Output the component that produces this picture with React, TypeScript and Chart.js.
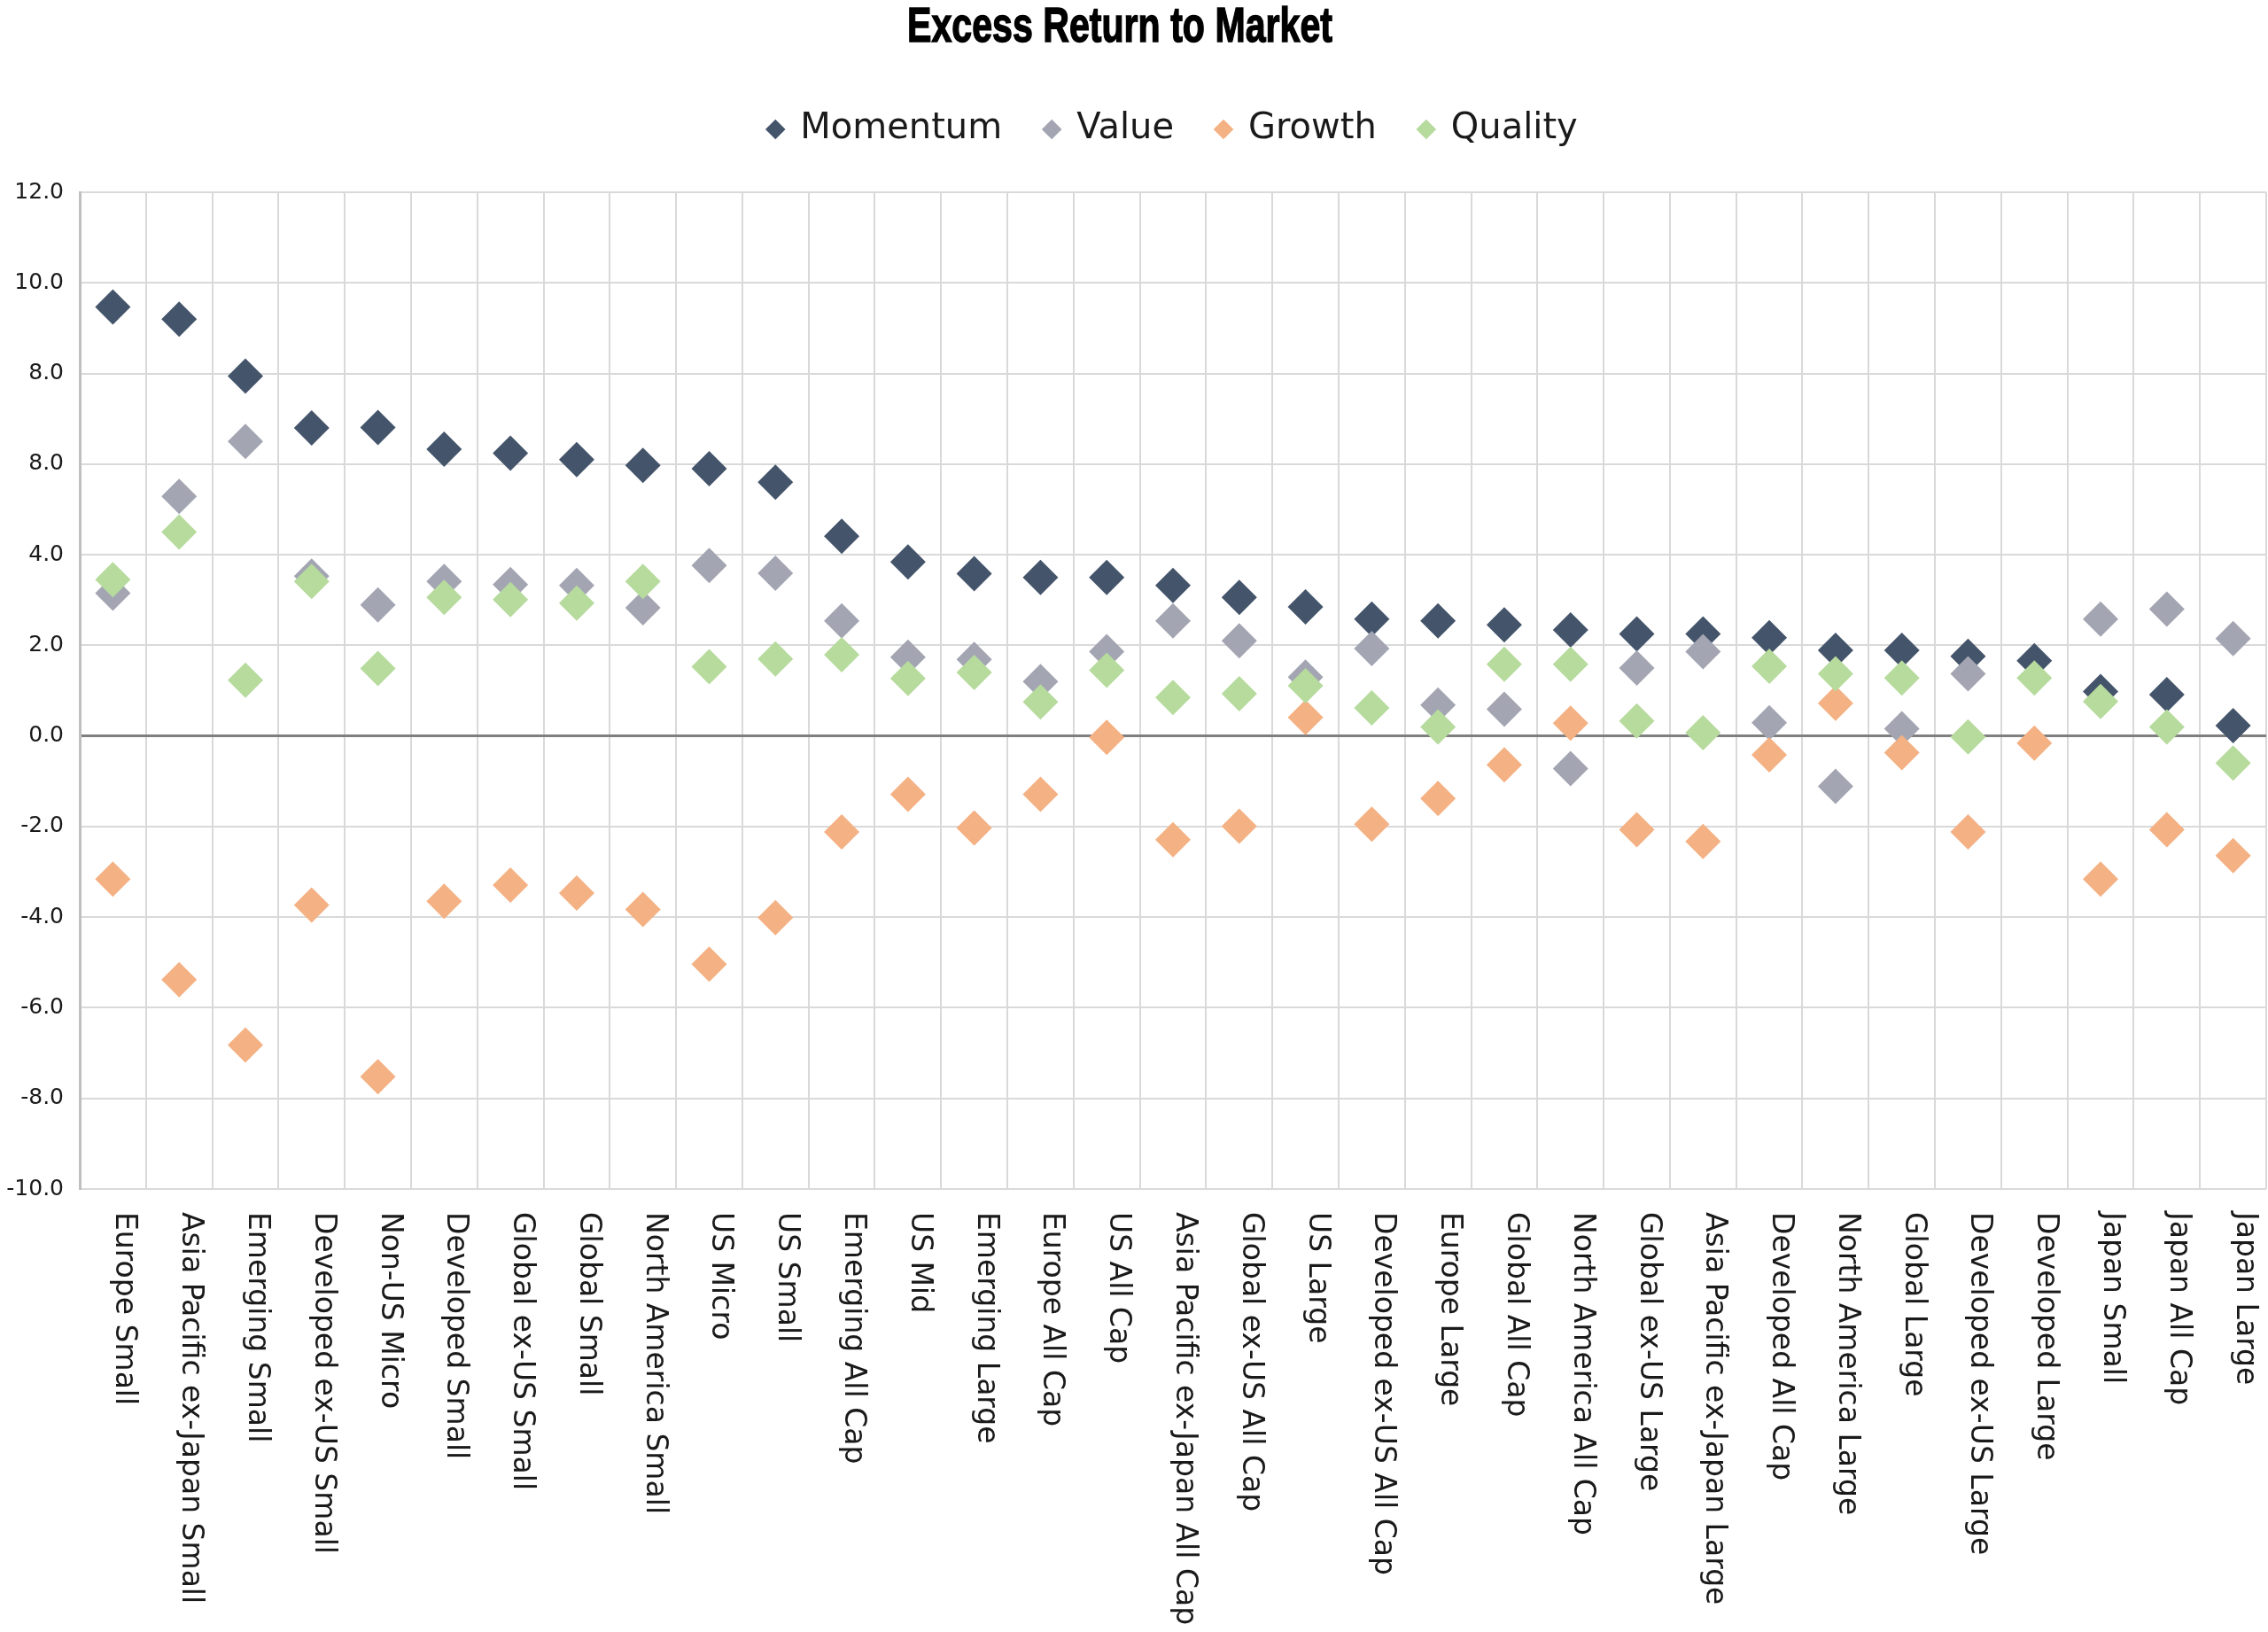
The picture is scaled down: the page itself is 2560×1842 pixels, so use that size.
import React, { useEffect, useRef } from 'react';
import { Chart, registerables } from 'chart.js';

Chart.register(...registerables);

const chartTitle = 'Excess Return to Market';

const categories = [
  'Europe Small', 'Asia Pacific ex-Japan Small', 'Emerging Small', 'Developed ex-US Small', 'Non-US Micro',
  'Developed Small', 'Global ex-US Small', 'Global Small', 'North America Small', 'US Micro', 'US Small',
  'Emerging All Cap', 'US Mid', 'Emerging Large', 'Europe All Cap', 'US All Cap', 'Asia Pacific ex-Japan All Cap',
  'Global ex-US All Cap', 'US Large', 'Developed ex-US All Cap', 'Europe Large', 'Global All Cap',
  'North America All Cap', 'Global ex-US Large', 'Asia Pacific ex-Japan Large', 'Developed All Cap',
  'North America Large', 'Global Large', 'Developed ex-US Large', 'Developed Large', 'Japan Small',
  'Japan All Cap', 'Japan Large',
];

const momentum = [
  9.47, 9.20, 7.94, 6.80, 6.81, 6.33, 6.24, 6.10, 5.97, 5.90, 5.60,
  4.41, 3.84, 3.58, 3.50, 3.50, 3.32, 3.06, 2.85, 2.58, 2.54, 2.45,
  2.34, 2.25, 2.25, 2.17, 1.89, 1.89, 1.76, 1.66, 0.98, 0.91, 0.23,
];

const value = [
  3.15, 5.29, 6.50, 3.53, 2.89, 3.41, 3.34, 3.32, 2.83, 3.76, 3.59,
  2.54, 1.74, 1.69, 1.20, 1.86, 2.54, 2.10, 1.30, 1.93, 0.68, 0.59,
  -0.72, 1.50, 1.86, 0.29, -1.11, 0.16, 1.37, null, 2.58, 2.80, 2.15,
];

const growth = [
  -3.16, -5.38, -6.82, -3.73, -7.52, -3.65, -3.29, -3.47, -3.83, -5.04, -4.01,
  -2.12, -1.29, -2.03, -1.29, -0.03, -2.29, -1.99, 0.41, -1.95, -1.38, -0.64,
  0.28, -2.07, -2.33, -0.42, 0.72, -0.37, -2.12, -0.16, -3.16, -2.07, -2.64,
];

const quality = [
  3.45, 4.50, 1.23, 3.41, 1.49, 3.06, 3.01, 2.93, 3.41, 1.53, 1.70,
  1.79, 1.27, 1.40, 0.75, 1.45, 0.85, 0.93, 1.11, 0.62, 0.20, 1.58,
  1.58, 0.33, 0.07, 1.54, 1.37, 1.28, -0.02, 1.28, 0.76, 0.20, -0.60,
];

const seriesNames = ['Momentum', 'Value', 'Growth', 'Quality'];
const seriesColors = ['#44546A', '#A3A6B2', '#F4B183', '#B6DB9D'];

// Tick labels as printed on the original axis (bottom to top)
const yTickLabels = ['-10.0', '-8.0', '-6.0', '-4.0', '-2.0', '0.0', '2.0', '4.0', '8.0', '8.0', '10.0', '12.0'];

const FONT = '"DejaVu Sans", "Open Sans", sans-serif';

export default function App() {
  const ref = useRef<HTMLCanvasElement | null>(null);

  useEffect(() => {
    const canvas = ref.current;
    if (!canvas) return;

    const titlePlugin = {
      id: 'condensedTitle',
      afterDraw(chart: any) {
        const ctx = chart.ctx;
        ctx.save();
        ctx.font = 'bold 56px "Liberation Sans Narrow", "Liberation Sans", sans-serif';
        const w = ctx.measureText(chartTitle).width;
        ctx.translate(1264, 47);
        ctx.scale(480 / w, 1);
        ctx.textAlign = 'center';
        ctx.textBaseline = 'alphabetic';
        ctx.fillStyle = '#000';
        ctx.strokeStyle = '#000';
        ctx.lineWidth = 1.5;
        ctx.fillText(chartTitle, 0, 0);
        ctx.strokeText(chartTitle, 0, 0);
        ctx.restore();
      },
    };

    const xLabelPlugin = {
      id: 'rotatedXLabels',
      afterDraw(chart: any) {
        const ctx = chart.ctx;
        const xs = chart.scales.x;
        const area = chart.chartArea;
        ctx.save();
        ctx.font = '33px ' + FONT;
        ctx.fillStyle = '#1a1a1a';
        ctx.textAlign = 'left';
        ctx.textBaseline = 'alphabetic';
        categories.forEach((label, i) => {
          const px = xs.getPixelForValue(i);
          ctx.save();
          ctx.translate(px + 4, area.bottom + 26);
          ctx.rotate(Math.PI / 2);
          ctx.fillText(label, 0, 0);
          ctx.restore();
        });
        ctx.restore();
      },
    };

    const allData = [momentum, value, growth, quality];

    const chart = new Chart(canvas, {
      type: 'line',
      data: {
        labels: categories,
        datasets: seriesNames.map((name, i) => ({
          label: name,
          data: allData[i],
          xAxisID: 'x',
          yAxisID: 'y',
          showLine: false,
          pointStyle: 'rectRot',
          pointRadius: 20,
          pointHoverRadius: 20,
          pointBorderWidth: 0,
          backgroundColor: seriesColors[i],
          borderColor: seriesColors[i],
          pointBackgroundColor: seriesColors[i],
          borderWidth: 0,
          order: seriesNames.length - 1 - i,
        })),
      },
      options: {
        animation: false,
        responsive: true,
        maintainAspectRatio: false,
        events: [],
        layout: { autoPadding: false, padding: { top: 78, right: 2, bottom: 0, left: 0 } },
        font: { family: FONT },
        plugins: {
          title: { display: false },
          tooltip: { enabled: false },
          legend: {
            display: true,
            position: 'top',
            fullSize: false,
            labels: {
              usePointStyle: true,
              boxWidth: 16,
              boxHeight: 16,
              padding: 48,
              color: '#1a1a1a',
              font: { size: 40, family: FONT },
              sort: (a: any, b: any) => a.datasetIndex - b.datasetIndex,
            },
          },
        },
        scales: {
          x: {
            type: 'category',
            offset: true,
            grid: { offset: true, color: '#D9D9D9', lineWidth: 2, drawTicks: false },
            border: { display: false },
            ticks: { display: false },
            afterFit: (s: any) => { s.height = 500; },
          },
          xTop: {
            type: 'category',
            position: 'top',
            offset: true,
            grid: { display: false, drawTicks: false },
            border: { display: false },
            ticks: { display: false },
            afterFit: (s: any) => { s.height = 41; },
          },
          y: {
            type: 'linear',
            min: -10,
            max: 12,
            ticks: {
              stepSize: 2,
              padding: 18,
              color: '#1a1a1a',
              font: { size: 25, family: FONT },
              callback: (_v: any, i: number) => yTickLabels[i],
            },
            grid: {
              drawTicks: false,
              color: (c: any) => (c.tick && c.tick.value === 0 ? '#7F7F7F' : '#D9D9D9'),
              lineWidth: (c: any) => (c.tick && c.tick.value === 0 ? 3 : 2),
            },
            border: { display: true, color: '#BFBFBF', width: 3 },
            afterFit: (s: any) => { s.width = 90; },
          },
        },
      } as any,
      plugins: [titlePlugin, xLabelPlugin],
    });

    return () => chart.destroy();
  }, []);

  return (
    <div style={{ position: 'fixed', left: 0, top: 0, width: 2560, height: 1842, background: '#fff' }}>
      <canvas ref={ref} />
    </div>
  );
}
